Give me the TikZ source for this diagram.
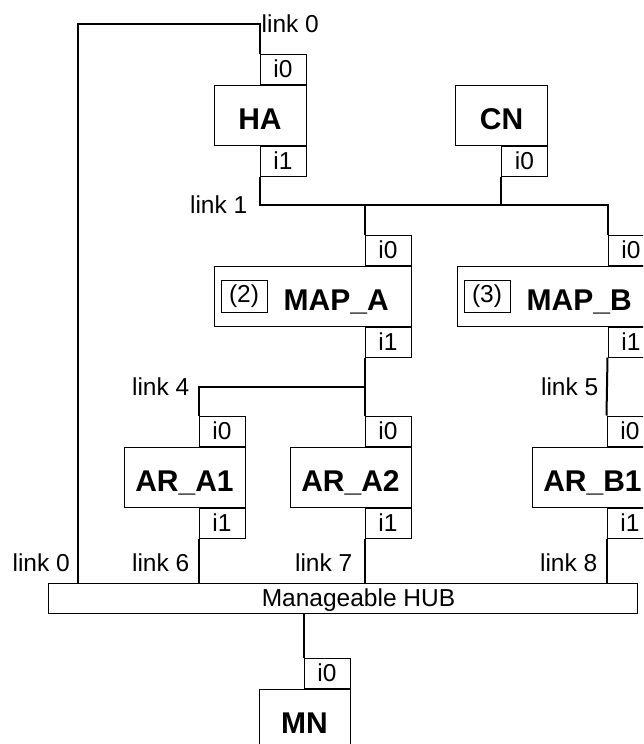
\documentclass[tikz,border=0pt]{standalone}
\usepackage{fontspec}
\setmainfont{Liberation Sans}
\usetikzlibrary{positioning}

\begin{document}
\begin{tikzpicture}[x=1pt, y=-1pt,
  devbox/.style={draw, line width=1pt, minimum height=60pt, inner sep=0pt,
    font=\bfseries\fontsize{30}{30}\selectfont, text height=29pt, text depth=0pt},
  devport/.style={draw, line width=1pt, minimum width=46pt, minimum height=30pt,
    inner sep=0pt, font=\fontsize{24.5}{26}\selectfont},
  devtag/.style={devport, minimum height=32pt},
  devname/.style={inner sep=0pt, font=\bfseries\fontsize{30}{30}\selectfont,
    text height=29pt, text depth=0pt},
  lnklabel/.style={inner sep=0pt, text depth=0pt, font=\fontsize{24.5}{26}\selectfont},
  linkline/.style={line width=2pt}]

  \useasboundingbox (0,0) rectangle (643,744);
  \clip (0,0) rectangle (643,744);

  % nodes
  \node [devbox, minimum width=92pt] (HA) at (260,115) {HA};
  \node [devbox, minimum width=92pt] (CN) at (501.5,115) {CN};
  \node [devbox, minimum width=197pt] (MAPA) at (312.5,296) {};
  \node [devbox, minimum width=197pt] (MAPB) at (555.5,296) {};
  \node [devbox, minimum width=121pt] (ARA1) at (184.5,477) {AR\_A1};
  \node [devbox, minimum width=121pt] (ARA2) at (350.5,477) {AR\_A2};
  \node [devbox, minimum width=121pt] (ARB1) at (592.5,477) {AR\_B1};
  \node [devbox, minimum width=91pt] (MN) at (304.5,719) {MN};
  \node [devport, minimum width=589pt] (hub) at (342.5,598) {};
  \node [lnklabel] (hubtxt) at ([xshift=16pt]hub.center) {Manageable HUB};

  \node [devtag, right=7pt of MAPA.west] (MAPAtag) {(2)};
  \node [devname, right=16pt of MAPAtag] (MAPAname) {MAP\_A};
  \node [devtag, right=7pt of MAPB.west] (MAPBtag) {(3)};
  \node [devname, right=16pt of MAPBtag] (MAPBname) {MAP\_B};

  % interfaces
  \node [devport, anchor=south east] (HAi0) at (HA.north east) {i0};
  \node [devport, anchor=north east] (HAi1) at (HA.south east) {i1};
  \node [devport, anchor=north east] (CNi0) at (CN.south east) {i0};
  \node [devport, anchor=south east] (MAPAi0) at (MAPA.north east) {i0};
  \node [devport, anchor=north east] (MAPAi1) at (MAPA.south east) {i1};
  \node [devport, anchor=south east] (MAPBi0) at (MAPB.north east) {i0};
  \node [devport, anchor=north east] (MAPBi1) at (MAPB.south east) {i1};
  \node [devport, anchor=south east] (ARA1i0) at (ARA1.north east) {i0};
  \node [devport, anchor=north east] (ARA1i1) at (ARA1.south east) {i1};
  \node [devport, anchor=south east] (ARA2i0) at (ARA2.north east) {i0};
  \node [devport, anchor=north east] (ARA2i1) at (ARA2.south east) {i1};
  \node [devport, anchor=south east] (ARB1i0) at (ARB1.north east) {i0};
  \node [devport, anchor=north east] (ARB1i1) at (ARB1.south east) {i1};
  \node [devport, anchor=south east] (MNi0) at (MN.north east) {i0};

  % links
  \coordinate (top) at (78,24);
  \coordinate (bus1) at (0,205);
  \coordinate (bus4) at (0,387);
  \coordinate (tags) at (0,563);

  \draw [linkline] (HAi0.north west) |- (top) -- (top |- hub.north);
  \draw [linkline] (HAi1.south west) -- (HAi1.south west |- bus1)
    -- (MAPBi0.north west |- bus1) -- (MAPBi0.north west);
  \draw [linkline] (CNi0.south west) -- (CNi0.south west |- bus1);
  \draw [linkline] (MAPAi0.north west) -- (MAPAi0.north west |- bus1);
  \draw [linkline] (MAPAi1.south west) -- (ARA2i0.north west);
  \draw [linkline] (MAPAi1.south west |- bus4) -| (ARA1i0.north west);
  \draw [linkline] (MAPBi1.south west) -- (ARB1i0.north west);
  \draw [linkline] (ARA1i1.south west) -- (ARA1i1.south west |- hub.north);
  \draw [linkline] (ARA2i1.south west) -- (ARA2i1.south west |- hub.north);
  \draw [linkline] (ARB1i1.south west) -- (ARB1i1.south west |- hub.north);
  \draw [linkline] (MNi0.north west) -- (MNi0.north west |- hub.south);

  % label the links
  \coordinate (j0) at (HAi0.north west |- top);
  \coordinate (j1) at (HAi1.south west |- bus1);
  \coordinate (j4) at (ARA1i0.north west |- bus4);
  \coordinate (j5) at (MAPBi1.south west |- bus4);
  \coordinate (k0) at (top |- tags);
  \coordinate (j6) at (ARA1i1.south west |- tags);
  \coordinate (j7) at (ARA2i1.south west |- tags);
  \coordinate (j8) at (ARB1i1.south west |- tags);

  \node [lnklabel, right=2pt of j0] (L0) {link 0};
  \node [lnklabel, left=12pt of j1] (L1) {link 1};
  \node [lnklabel, left=9pt of j4] (L4) {link 4};
  \node [lnklabel, left=9pt of j5] (L5) {link 5};
  \node [lnklabel, left=8pt of k0] (L0b) {link 0};
  \node [lnklabel, left=9pt of j6] (L6) {link 6};
  \node [lnklabel, left=12pt of j7] (L7) {link 7};
  \node [lnklabel, left=9pt of j8] (L8) {link 8};

\end{tikzpicture}
\end{document}
